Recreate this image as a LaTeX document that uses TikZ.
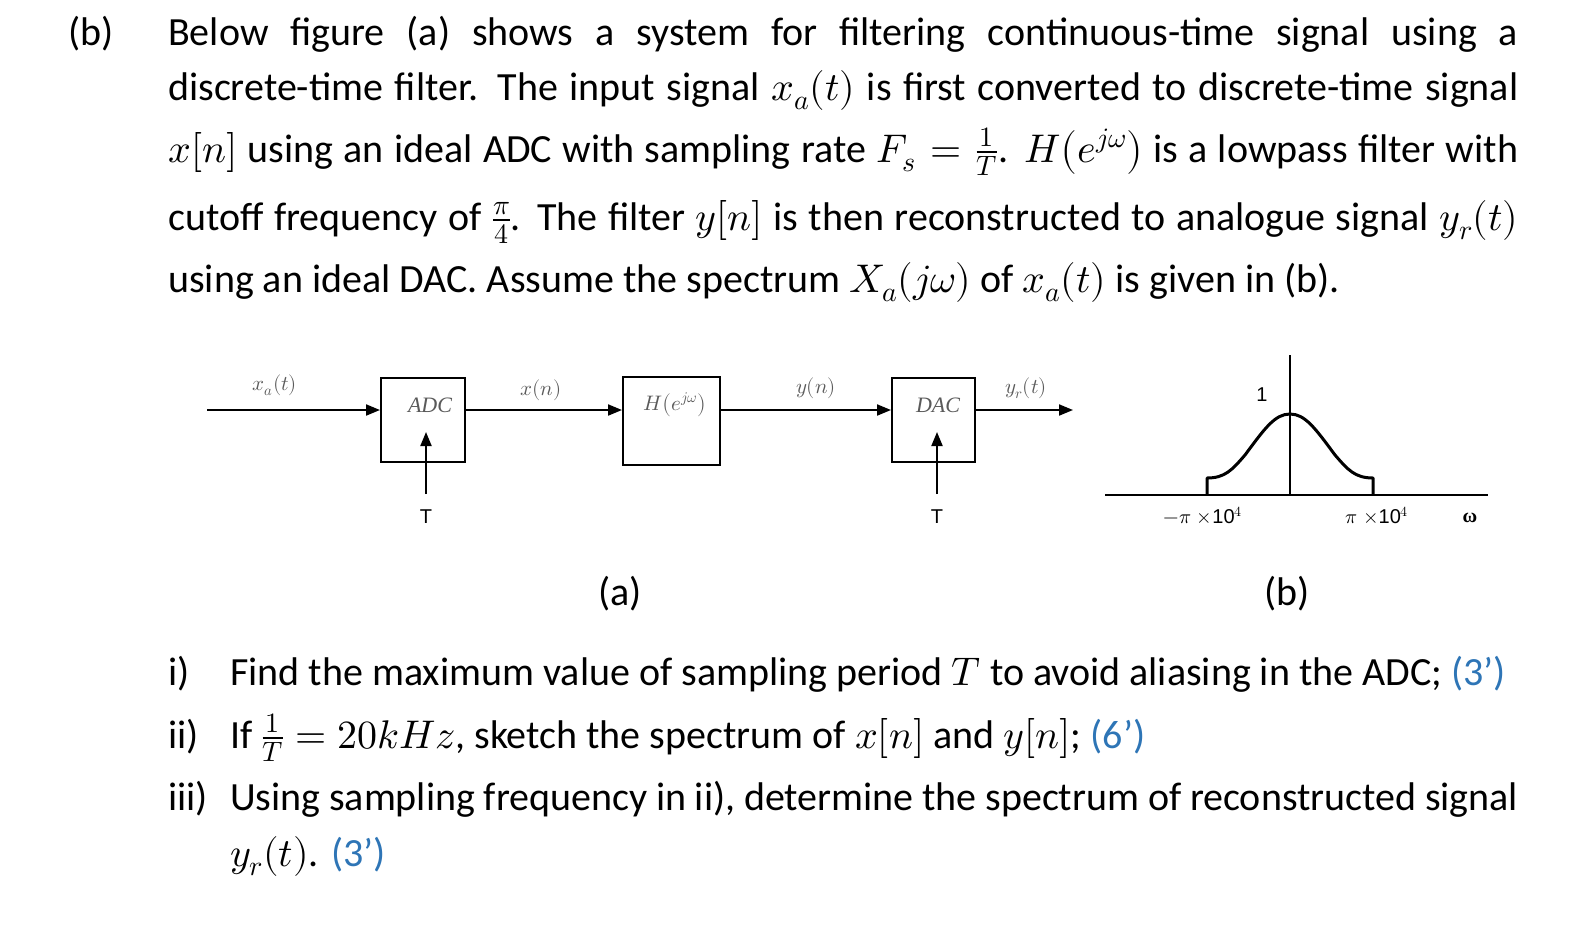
\documentclass[tikz,border=0pt]{standalone}
\usepackage{fontspec}
\usepackage{unicode-math}
\setmainfont{Carlito}
\setmathfont{Latin Modern Math}
\newfontfamily\tms{Liberation Serif}
\newfontfamily\hv{Liberation Sans}
\usetikzlibrary{arrows.meta}
\definecolor{qblue}{RGB}{46,117,182}
\definecolor{dg}{RGB}{90,90,90}
\tikzset{
  body/.style={anchor=base west,inner sep=0pt,font=\fontsize{40}{46}\selectfont},
  blk/.style={draw,line width=2pt,inner sep=0pt},
  sig/.style={line width=2pt,-{Triangle[length=14pt,width=11pt]}},
  lab/.style={font=\fontsize{21}{24}\selectfont\tms\itshape,text=dg,inner sep=0pt},
  tl/.style={font=\fontsize{20}{24}\selectfont\hv,inner sep=0pt}
}
\newcommand\jline[1]{\parbox[t]{1350pt}{\parfillskip=0pt #1}}
\begin{document}
\begin{tikzpicture}[x=1pt,y=-1pt]
\useasboundingbox (0,0) rectangle (1578,930);
\node[body] (b) at (68,45) {(b)};
\node[body] (l1) at (168,45) {\jline{Below figure (a) shows a system for filtering continuous-time signal using a}};
\node[body] (l2) at (168,100) {\jline{discrete-time filter. The input signal $x_a(t)$ is first converted to discrete-time signal}};
\node[body] (l3) at (168,162) {\jline{$x[n]$ using an ideal ADC with sampling rate $F_s=\frac{1}{T}$. $H\bigl(e^{j\omega}\bigr)$ is a lowpass filter with}};
\node[body] (l4) at (168,230) {\jline{cutoff frequency of $\frac{\pi}{4}$. The filter $y[n]$ is then reconstructed to analogue signal $y_r(t)$}};
\node[body] (l5) at (168,292) {using an ideal DAC. Assume the spectrum $X_a(j\omega)$ of $x_a(t)$ is given in (b).};
% block diagram
\node[blk,minimum width=84pt,minimum height=84pt] (adc) at (423,420) {};
\node[lab,font=\fontsize{22}{24}\selectfont\tms\itshape] at (430,405) {ADC};
\node[blk,minimum width=97pt,minimum height=88pt] (h) at (671.5,421) {};
\node[lab] at (675,405) {$H\bigl(e^{j\omega}\bigr)$};
\node[blk,minimum width=83pt,minimum height=84pt] (dac) at (933.5,420) {};
\node[lab,font=\fontsize{22}{24}\selectfont\tms\itshape] at (938,405) {DAC};
\coordinate (in) at (207,410);
\coordinate (out) at (1073,410);
\draw[sig] (in) -- (in -| adc.west);
\draw[sig] (adc.east |- 0,410) -- (h.west |- 0,410);
\draw[sig] (h.east |- 0,410) -- (dac.west |- 0,410);
\draw[sig] (dac.east |- 0,410) -- (out);
\node[lab] (xa) at (275,385) {$x_a(t)$};
\node[lab] (xn) at (541,390) {$x(n)$};
\node[lab] (yn) at (816,388) {$y(n)$};
\node[lab] (yr) at (1026,388) {$y_r(t)$};
\node[tl] (t1) at (426,517) {T};
\node[tl] (t2) at (937,517) {T};
\coordinate (ta) at (426,494); \coordinate (tb) at (937,494);
\draw[sig] (ta) -- (426,432);
\draw[sig] (tb) -- (937,432);
% spectrum
\draw[line width=1.3pt] (1105,495) -- (1488,495);
\draw[line width=1.3pt] (1290,355) -- (1290,495);
\draw[line width=3pt,line join=round] (1207,495) -- (1207,478) .. controls (1225,478) and (1232,470) .. (1245,455) .. controls (1265,428) and (1275,414) .. (1290,414) .. controls (1305,414) and (1315,428) .. (1335,455) .. controls (1348,470) and (1355,478) .. (1373,478) -- (1373,495);
\node[tl] at (1262,395) {1};
\node[tl] at (1203,515) {$-\mitpi\ \times$10$^4$};
\node[tl] at (1377,515) {$\mitpi\ \times$10$^4$};
\node[tl,font=\fontsize{20}{24}\selectfont\tms\bfseries] at (1470,518) {ω};
\node[body,anchor=base] at (620,605) {(a)};
\node[body,anchor=base] at (1287,605) {(b)};
% questions
\node[body] at (168,685) {i)};
\node[body] at (230,685) {Find the maximum value of sampling period $T$ to avoid aliasing in the ADC; \textcolor{qblue}{(3’)}};
\node[body] at (168,748) {ii)};
\node[body] at (230,748) {If $\frac{1}{T}=20kHz$, sketch the spectrum of $x[n]$ and $y[n]$; \textcolor{qblue}{(6’)}};
\node[body] at (168,810) {iii)};
\node[body] at (230,810) {\parbox[t]{1288pt}{\parfillskip=0pt Using sampling frequency in ii), determine the spectrum of reconstructed signal}};
\node[body] at (230,866) {$y_r(t)$. \textcolor{qblue}{(3’)}};
\end{tikzpicture}
\end{document}
